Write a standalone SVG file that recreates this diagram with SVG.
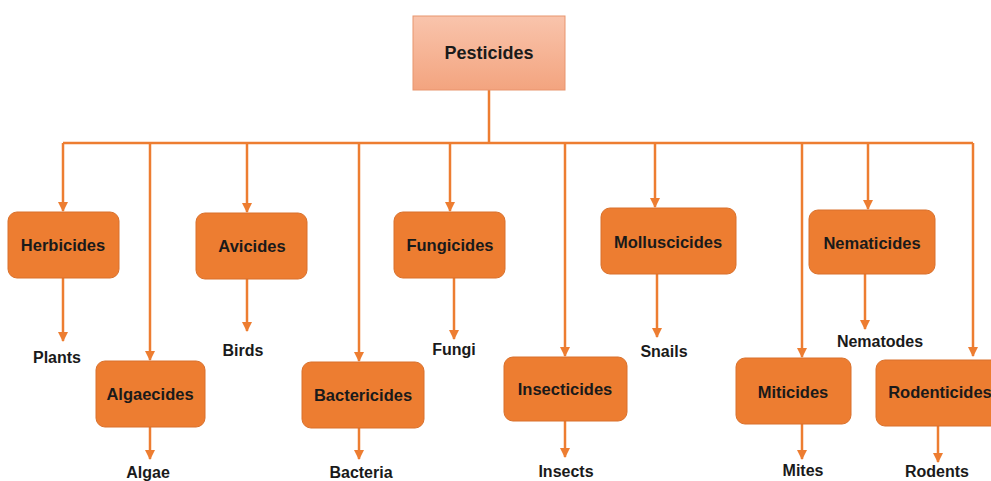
<svg xmlns="http://www.w3.org/2000/svg" width="991" height="481" viewBox="0 0 991 481">
<style>
.box{fill:#ED7D31;stroke:#D9712C;stroke-width:1}
.lbl{font-family:"Liberation Sans",Arial,sans-serif;font-weight:bold;font-size:16.5px;fill:#1a1a1a;text-anchor:middle;dominant-baseline:central}
.leaf{font-family:"Liberation Sans",Arial,sans-serif;font-weight:bold;font-size:16px;fill:#1a1a1a;text-anchor:middle;dominant-baseline:central}
.ln{stroke:#ED7D31;stroke-width:2.5;fill:none}
.ar{stroke:#ED7D31;stroke-width:2.5;fill:none;marker-end:url(#ah)}
</style>
<defs>
<linearGradient id="pg" x1="0" y1="0" x2="0" y2="1">
<stop offset="0" stop-color="#F9C4AC"/>
<stop offset="1" stop-color="#F3A47F"/>
</linearGradient>
<marker id="ah" viewBox="0 0 10 10" refX="9" refY="5" markerWidth="4" markerHeight="4" orient="auto" markerUnits="strokeWidth">
<path d="M0,0 L10,5 L0,10 z" fill="#ED7D31"/>
</marker>
</defs>
<rect width="991" height="481" fill="#ffffff"/>
<g id="connectors">
<path class="ln" d="M489,90 V143 M63,143 H973"/>
<path class="ar" d="M63,143 V211"/>
<path class="ar" d="M150,143 V360"/>
<path class="ar" d="M247,143 V212"/>
<path class="ar" d="M359,143 V361"/>
<path class="ar" d="M450,143 V211"/>
<path class="ar" d="M565,143 V356"/>
<path class="ar" d="M655,143 V207"/>
<path class="ar" d="M802,143 V357"/>
<path class="ar" d="M868,143 V209"/>
<path class="ar" d="M973,143 V356"/>
<path class="ar" d="M63,278 V341"/>
<path class="ar" d="M150,427 V459"/>
<path class="ar" d="M247,279 V331"/>
<path class="ar" d="M359,428 V459"/>
<path class="ar" d="M454,278 V339"/>
<path class="ar" d="M565,421 V457"/>
<path class="ar" d="M657,274 V337"/>
<path class="ar" d="M802,424 V459"/>
<path class="ar" d="M865,274 V329"/>
<path class="ar" d="M938,426 V462"/>
</g>
<g id="pesticides">
<rect x="413" y="16" width="152" height="74" fill="url(#pg)" stroke="#E8956E" stroke-width="1"/>
<text class="lbl" x="489" y="53" style="font-size:18px">Pesticides</text>
</g>
<g id="herbicides"><rect class="box" x="8" y="212" width="111" height="66" rx="9"/><text class="lbl" x="63" y="245">Herbicides</text></g>
<g id="plants"><text class="leaf" x="57" y="357">Plants</text></g>
<g id="algaecides"><rect class="box" x="96" y="361" width="109" height="66" rx="9"/><text class="lbl" x="150" y="394">Algaecides</text></g>
<g id="algae"><text class="leaf" x="148" y="472">Algae</text></g>
<g id="avicides"><rect class="box" x="196" y="213" width="111" height="66" rx="9"/><text class="lbl" x="252" y="246">Avicides</text></g>
<g id="birds"><text class="leaf" x="243" y="350">Birds</text></g>
<g id="bactericides"><rect class="box" x="302" y="362" width="122" height="66" rx="9"/><text class="lbl" x="363" y="395">Bactericides</text></g>
<g id="bacteria"><text class="leaf" x="361" y="472">Bacteria</text></g>
<g id="fungicides"><rect class="box" x="394" y="212" width="111" height="66" rx="9"/><text class="lbl" x="450" y="245">Fungicides</text></g>
<g id="fungi"><text class="leaf" x="454" y="349">Fungi</text></g>
<g id="insecticides"><rect class="box" x="504" y="357" width="123" height="64" rx="9"/><text class="lbl" x="565" y="389">Insecticides</text></g>
<g id="insects"><text class="leaf" x="566" y="471">Insects</text></g>
<g id="molluscicides"><rect class="box" x="601" y="208" width="135" height="66" rx="9"/><text class="lbl" x="668" y="242">Molluscicides</text></g>
<g id="snails"><text class="leaf" x="664" y="351">Snails</text></g>
<g id="miticides"><rect class="box" x="736" y="358" width="115" height="66" rx="9"/><text class="lbl" x="793" y="392">Miticides</text></g>
<g id="mites"><text class="leaf" x="803" y="470">Mites</text></g>
<g id="nematicides"><rect class="box" x="809" y="210" width="126" height="64" rx="9"/><text class="lbl" x="872" y="243">Nematicides</text></g>
<g id="nematodes"><text class="leaf" x="880" y="341">Nematodes</text></g>
<g id="rodenticides"><rect class="box" x="876" y="360" width="125" height="66" rx="9"/><text class="lbl" x="940" y="392">Rodenticides</text></g>
<g id="rodents"><text class="leaf" x="937" y="471">Rodents</text></g>
</svg>
